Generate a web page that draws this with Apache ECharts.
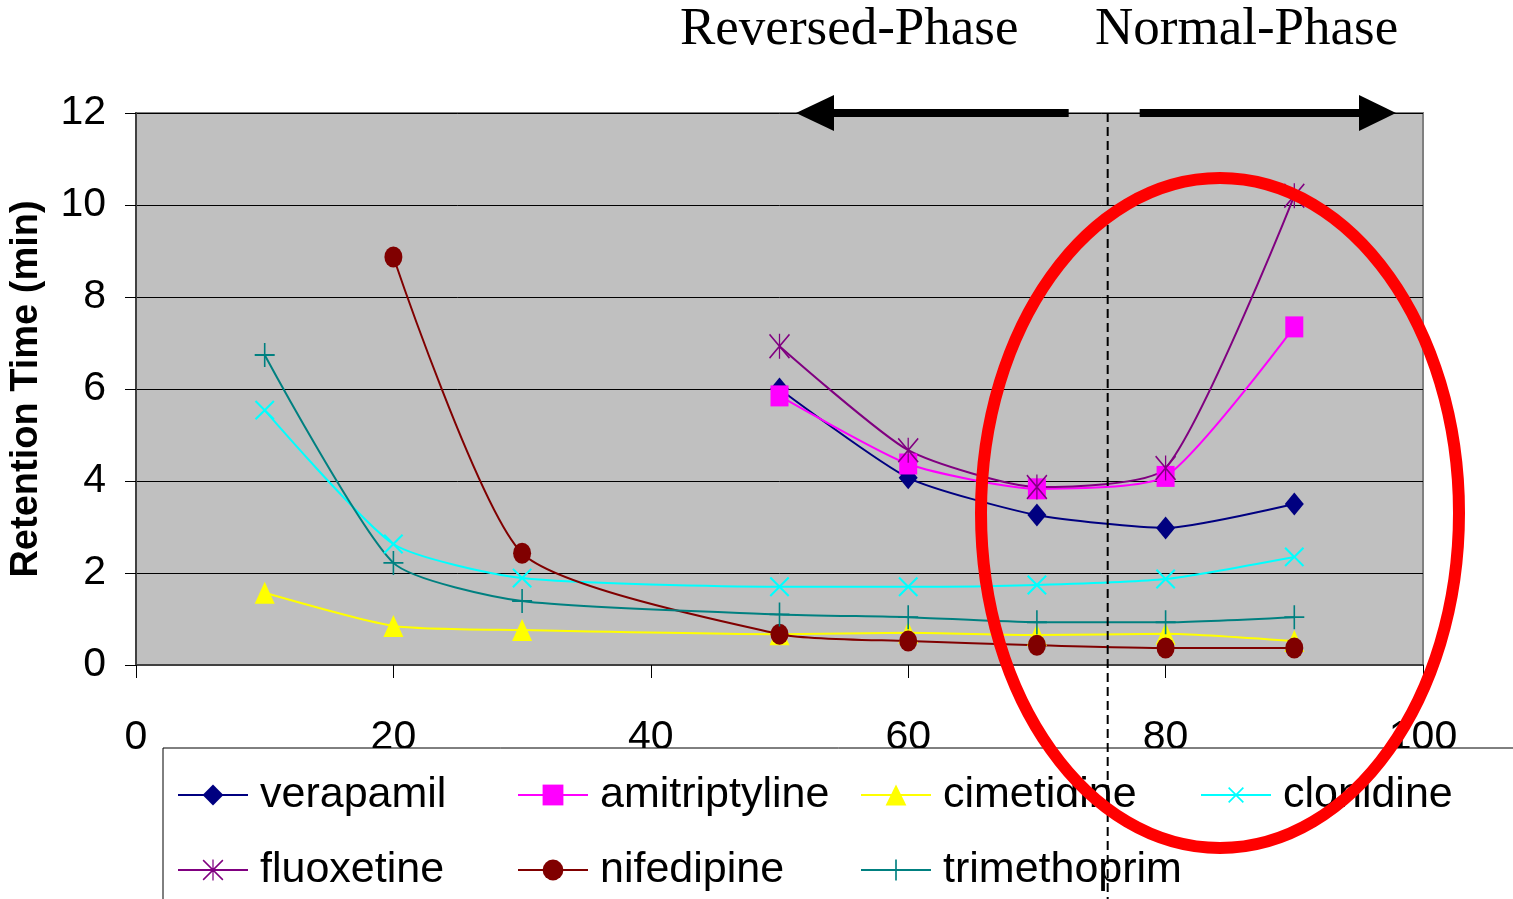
<!DOCTYPE html>
<html>
<head>
<meta charset="utf-8">
<title>Retention Time</title>
<script src="https://cdn.jsdelivr.net/npm/echarts@6/dist/echarts.min.js"></script>
<style>
  html, body { margin: 0; padding: 0; background: #fff; }
  #chart { width: 1513px; height: 899px; }
</style>
</head>
<body>
<div id="chart"></div>
<script>
// Retention time (min) versus percent organic modifier
const xTicks = [0, 20, 40, 60, 80, 100];
const yTicks = [0, 2, 4, 6, 8, 10, 12];

const verapamil     = [[50, 6.0], [60, 4.07], [70, 3.26], [80, 2.98], [90, 3.5]];
const amitriptyline = [[50, 5.85], [60, 4.37], [70, 3.83], [80, 4.1], [90, 7.35]];
const cimetidine    = [[10, 1.57], [20, 0.85], [30, 0.76], [50, 0.67], [60, 0.7], [70, 0.65], [80, 0.68], [90, 0.52]];
const clonidine     = [[10, 5.54], [20, 2.63], [30, 1.89], [50, 1.7], [60, 1.7], [70, 1.74], [80, 1.87], [90, 2.35]];
const fluoxetine    = [[50, 6.93], [60, 4.67], [70, 3.87], [80, 4.28], [90, 10.2]];
const nifedipine    = [[20, 8.87], [30, 2.43], [50, 0.67], [60, 0.52], [70, 0.43], [80, 0.37], [90, 0.37]];
const trimethoprim  = [[10, 6.74], [20, 2.22], [30, 1.39], [50, 1.1], [60, 1.04], [70, 0.93], [80, 0.93], [90, 1.04]];

// boundary between the two elution modes (% organic)
const phaseBoundary = 75.5;

const SANS = "'Liberation Sans Narrow', 'Liberation Sans', Arial, sans-serif";
const SERIF = "'Liberation Serif', 'Times New Roman', serif";

// stroked glyphs built as filled outlines
const PLUS = 'path://M46,0 H54 V46 H100 V54 H54 V100 H46 V54 H0 V46 H46 Z';
const STAR = 'path://M0,5 L5,0 L100,95 L95,100 Z M95,0 L100,5 L5,100 L0,95 Z M47,0 H53 V100 H47 Z';

function lineSeries(name, data, color, symbol, size, extra) {
  return Object.assign({
    name: name,
    type: 'line',
    data: data,
    smooth: 0.2,
    symbol: symbol,
    symbolSize: size,
    showAllSymbol: true,
    lineStyle: { color: color, width: 2 },
    itemStyle: { color: color },
    emphasis: { disabled: true }
  }, extra || {});
}

const series = [
  lineSeries('verapamil', verapamil, '#000080', 'diamond', [19, 23]),
  lineSeries('amitriptyline', amitriptyline, '#ff00ff', 'rect', [18, 21]),
  lineSeries('cimetidine', cimetidine, '#ffff00', 'triangle', [20, 22]),
  lineSeries('clonidine', clonidine, '#00ffff', PLUS, [26, 26], { symbolRotate: 45 }),
  lineSeries('fluoxetine', fluoxetine, '#800080', STAR, [21, 25]),
  lineSeries('nifedipine', nifedipine, '#800000', 'circle', [18, 21]),
  lineSeries('trimethoprim', trimethoprim, '#008080', PLUS, [20, 24])
];

// legend: four fixed-width columns, two rows
const legendCols = [172, 512, 855, 1195];
const legendRows = [766, 841];
const legends = series.map(function (s, i) {
  return {
    data: [s.name],
    left: legendCols[i % 4],
    top: legendRows[Math.floor(i / 4)],
    orient: 'horizontal',
    itemWidth: 70,
    itemHeight: 26,
    selectedMode: false,
    textStyle: {
      fontFamily: SANS,
      fontSize: 43,
      color: '#000',
      lineHeight: 48,
      padding: [0, 0, 0, 7]
    }
  };
});

const chart = echarts.init(document.getElementById('chart'), null, { renderer: 'canvas' });

chart.setOption({
  animation: false,
  backgroundColor: '#ffffff',
  grid: {
    left: 133, top: 113, right: 90, bottom: 234,
    show: true,
    backgroundColor: '#c0c0c0',
    borderColor: '#808080',
    borderWidth: 2
  },
  xAxis: {
    type: 'value',
    min: xTicks[0],
    max: xTicks[xTicks.length - 1],
    interval: 20,
    axisLine: { show: true, lineStyle: { color: '#404040', width: 2 } },
    axisTick: { show: true, length: 13, lineStyle: { color: '#000', width: 1 } },
    axisLabel: { fontFamily: SANS, fontSize: 41, color: '#000', margin: 52 },
    splitLine: { show: false }
  },
  yAxis: {
    type: 'value',
    min: yTicks[0],
    max: yTicks[yTicks.length - 1],
    interval: 2,
    name: 'Retention Time (min)',
    nameLocation: 'middle',
    nameGap: 90,
    nameTextStyle: { fontFamily: "'Liberation Sans', Arial, sans-serif", fontSize: 38, fontWeight: 'bold', color: '#000' },
    axisLine: { show: true, lineStyle: { color: '#404040', width: 2 } },
    axisTick: { show: true, length: 11, lineStyle: { color: '#000', width: 1 } },
    axisLabel: { fontFamily: SANS, fontSize: 41, color: '#000', margin: 30 },
    splitLine: { show: true, lineStyle: { color: '#000', width: 1 } }
  },
  legend: legends,
  series: series
});

// annotations drawn relative to the plot area
const bx = chart.convertToPixel({ xAxisIndex: 0 }, phaseBoundary);
const yTop = chart.convertToPixel({ yAxisIndex: 0 }, 12);

chart.setOption({
  graphic: [
    // legend frame (white, covers lower part of the x labels)
    { type: 'rect', z: 3, shape: { x: 163, y: 748, width: 1400, height: 200 },
      style: { fill: '#ffffff', stroke: '#000', lineWidth: 1 } },
    // titles
    { type: 'text', z: 10, left: 680, top: 4,
      style: { text: 'Reversed-Phase', font: '53px ' + SERIF, fill: '#000' } },
    { type: 'text', z: 10, left: 1095, top: 4,
      style: { text: 'Normal-Phase', font: '53px ' + SERIF, fill: '#000' } },
    // arrows
    { type: 'rect', z: 10, shape: { x: 832, y: yTop - 4, width: bx - 39 - 832, height: 8 }, style: { fill: '#000' } },
    { type: 'polygon', z: 10, shape: { points: [[796, yTop], [834, yTop - 18], [834, yTop + 18]] }, style: { fill: '#000' } },
    { type: 'rect', z: 10, shape: { x: bx + 32, y: yTop - 4, width: 1362 - bx - 32, height: 8 }, style: { fill: '#000' } },
    { type: 'polygon', z: 10, shape: { points: [[1396, yTop], [1359, yTop - 18], [1359, yTop + 18]] }, style: { fill: '#000' } },
    // phase boundary
    { type: 'line', z: 10, shape: { x1: bx, y1: yTop, x2: bx, y2: 899 },
      style: { stroke: '#000', lineWidth: 2, lineDash: [9, 5] } },
    // highlighted region
    { type: 'ellipse', z: 11, shape: { cx: 1220, cy: 513, rx: 239, ry: 335 },
      style: { fill: 'none', stroke: '#ff0000', lineWidth: 12 } }
  ]
});
</script>
</body>
</html>
